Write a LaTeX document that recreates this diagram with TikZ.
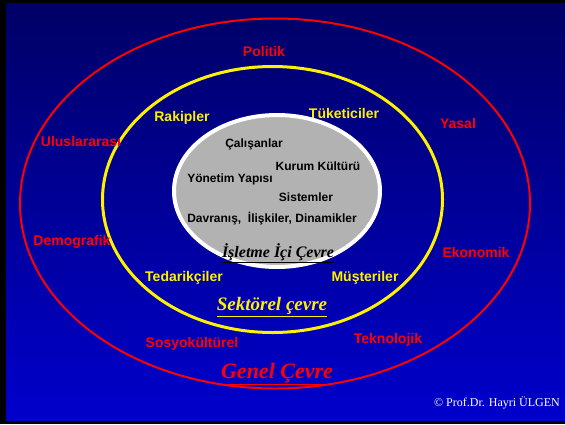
\documentclass[tikz,border=0pt]{standalone}
\usepackage{fontspec}
\setmainfont{Liberation Serif}
\setsansfont{Liberation Sans}
\definecolor{navytop}{RGB}{0,0,102}
\definecolor{navybot}{RGB}{0,0,204}
\definecolor{icgri}{RGB}{178,178,178}

\begin{document}
\begin{tikzpicture}[x=1pt, y=-1pt,
  genel/.style={text=red, font=\sffamily\bfseries\fontsize{14}{16}\selectfont, inner sep=0pt},
  sektor/.style={text=yellow, font=\sffamily\bfseries\fontsize{14}{16}\selectfont, inner sep=0pt},
  ic/.style={text=black, font=\sffamily\bfseries\fontsize{12}{14}\selectfont, inner sep=0pt},
  baslik/.style={font=\rmfamily\bfseries\itshape, inner sep=0pt}]
\useasboundingbox (0,0) rectangle (565,424);
\fill[black] (0,0) rectangle (565,424);
\shade[top color=navytop, bottom color=navybot] (6,3) rectangle (565,420);
% the three rings
\draw[red, line width=2] (275,203.5) ellipse [x radius=255, y radius=185];
\draw[yellow, line width=3] (272.5,199.5) ellipse [x radius=170, y radius=133];
\draw[white, line width=4, fill=icgri] (277,191) ellipse [x radius=103, y radius=76];
% genel cevre
\node[genel] (politik) at (264,51) {Politik};
\node[genel] (yasal) at (458,123) {Yasal};
\node[genel] (uluslar) at (81,141) {Uluslararası};
\node[genel] (demo) at (72,242) {Demografik};
\node[genel] (ekonomik) at (476,252) {Ekonomik};
\node[genel] (sosyo) at (192,344) {Sosyokültürel};
\node[genel] (tekno) at (388,340) {Teknolojik};
\node[baslik, text=red, font=\rmfamily\bfseries\itshape\fontsize{22}{24}\selectfont] (genel) at (277,374) {\underline{Genel Çevre}};
% sektorel cevre
\node[sektor] (rakip) at (182,118) {Rakipler};
\node[sektor] (tuketici) at (344,113) {Tüketiciler};
\node[sektor] (tedarik) at (184,278) {Tedarikçiler};
\node[sektor] (musteri) at (365,278) {Müşteriler};
\node[baslik, text=yellow, font=\rmfamily\bfseries\itshape\fontsize{19}{21}\selectfont] (sektorel) at (272,307) {\underline{Sektörel çevre}};
% isletme ici cevre
\node[ic] (calisan) at (254,144) {Çalışanlar};
\node[ic] (kultur) at (318,166) {Kurum Kültürü};
\node[ic] (yonetim) at (230,179) {Yönetim Yapısı};
\node[ic] (sistem) at (306,197) {Sistemler};
\node[ic] (davranis) at (272,219) {Davranış,\ \ İlişkiler, Dinamikler};
\node[baslik, text=black, font=\rmfamily\bfseries\itshape\fontsize{16}{18}\selectfont] (isletme) at (278,253) {\underline{İşletme İçi Çevre}};
\node[text=white, font=\rmfamily\fontsize{12}{14}\selectfont, inner sep=0pt] (telif) at (497,403) {\textcopyright{} Prof.Dr. Hayri ÜLGEN};
\end{tikzpicture}
\end{document}
